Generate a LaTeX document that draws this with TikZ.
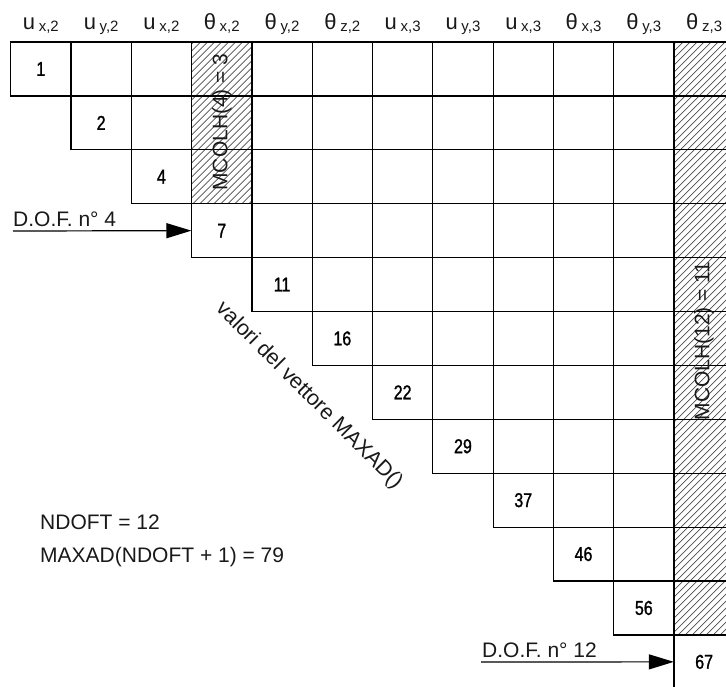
\documentclass[tikz,border=0pt]{standalone}
\usepackage{fontspec}
\setmainfont{Liberation Sans}
\newfontfamily\numfont[FakeStretch=0.8,FakeBold=1.2]{Liberation Sans}
\usetikzlibrary{arrows.meta}

% header label: main symbol followed by a lowered subscript
\newcommand\hd[2]{#1\,\raisebox{-2pt}{\fontsize{15}{15}\selectfont #2}}

% hatched rectangle: x1, y1, x2, y2 (y grows downwards)
\newcommand\hatchbox[4]{%
  \begin{scope}
    \clip (#1,#2) rectangle (#3,#4);
    \pgfmathsetmacro\hH{#4-#2}
    \pgfmathtruncatemacro\hN{(#3-#1+\hH)/7+1}
    \foreach \i in {0,...,\hN}
      \draw[hatchline] ({#1-\hH+\i*7},{#4+2}) -- ++({\hH+6},{-\hH-6});
  \end{scope}}

\begin{document}
\begin{tikzpicture}[x=1pt,y=-1pt,
  cell/.style={draw=black, line width=1.2pt},
  hatchline/.style={draw=black!70, line width=0.7pt},
  txt/.style={font=\fontsize{21}{24}\selectfont, text=black!90, inner sep=0pt},
  head/.style={font=\fontsize{22}{24}\selectfont, text=black!90, inner sep=0pt, anchor=base},
  diag/.style={font=\numfont\fontsize{20}{20}\selectfont, inner sep=0pt,
               minimum width=60.3pt, minimum height=53.9pt},
  dofarrow/.style={line width=1.2pt, -{Triangle[length=25pt,width=15pt]}}
]
\useasboundingbox (0,0) rectangle (726,686);
\clip (0,0) rectangle (726,686);

\def\cw{60.3}
\def\rh{53.9}
\def\xo{10.7}
\def\yo{42}

% hatched column segments above the skyline
\hatchbox{191.6}{42}{251.9}{203.7}
\hatchbox{674}{42}{734.3}{634.9}

% upper triangular grid of cells
\foreach \r in {1,...,12}
  \foreach \c in {\r,...,12}
    \draw[cell] ({\xo+(\c-1)*\cw},{\yo+(\r-1)*\rh}) rectangle ++(\cw,\rh);

% diagonal addresses (MAXAD)
\foreach \r/\v in {1/1,2/2,3/4,4/7,5/11,6/16,7/22,8/29,9/37,10/46,11/56,12/67}
  \node[diag] (d\r) at ({\xo+(\r-0.5)*\cw},{\yo+(\r-0.5)*\rh}) {\v};

% column headers
\foreach \c/\m/\s in {1/u/{x,2},2/u/{y,2},3/u/{x,2},4/θ/{x,2},5/θ/{y,2},6/θ/{z,2},
                      7/u/{x,3},8/u/{y,3},9/u/{x,3},10/θ/{x,3},11/θ/{y,3},12/θ/{z,3}}
  \node[head] (h\c) at ({\xo+(\c-0.5)*\cw},29) {\hd{\m}{\s}};

% column heights
\node[txt, rotate=90] (mc4) at (222,122) {MCOLH(4) = 3};
\node[txt, rotate=90] (mc12) at (704,341) {MCOLH(12) = 11};

% diagonal caption
\node[txt, font=\fontsize{21.5}{24}\selectfont, rotate=-45] (cap) at (309,396) {valori del vettore MAXAD()};

% degree-of-freedom pointers
\coordinate (a4) at (13,231);
\coordinate (a12) at (481,662);
\draw[dofarrow] (a4) -- (d4.west);
\draw[dofarrow] (a12) -- (d12.west);
\node[txt, anchor=base west] (l4) at (13,226) {D.O.F. n° 4};
\node[txt, anchor=base west] (l12) at (482,657) {D.O.F. n° 12};

% totals
\node[txt, anchor=base west] (nd) at (40,529) {NDOFT = 12};
\node[txt, anchor=base west] (mx) at (40,562) {MAXAD(NDOFT + 1) = 79};
\end{tikzpicture}
\end{document}
